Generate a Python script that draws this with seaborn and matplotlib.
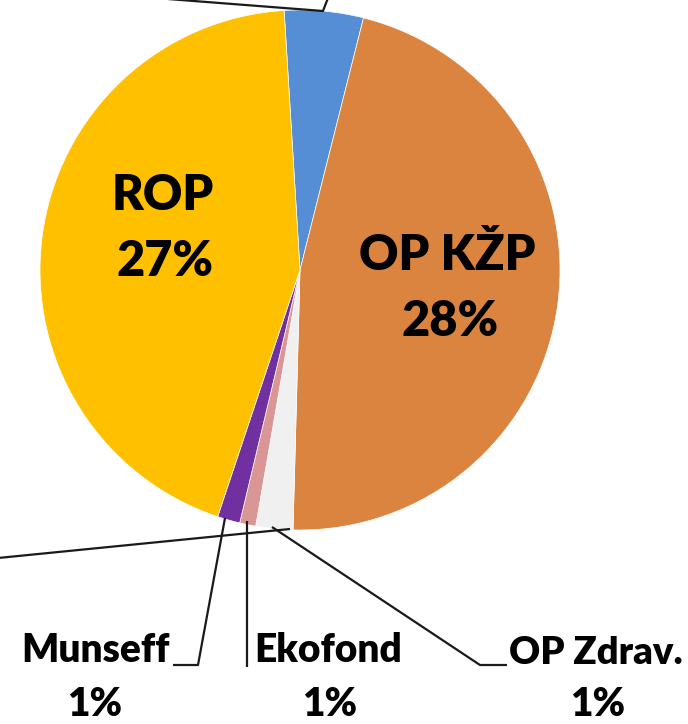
import matplotlib
matplotlib.use("Agg")
import matplotlib.pyplot as plt
import seaborn as sns

categories = ["Other", "OP KŽP", "OP Zdrav.", "Ekofond", "Munseff", "ROP"]
shares = [4.9, 46.5, 2.3, 1.0, 1.4, 43.9]
label_pct = ["", "28%", "1%", "1%", "1%", "27%"]
colors = ["#558ED5", "#DB843F", "#F0F0F0", "#D99694", "#7030A0", "#FFC000"]

sns.set_theme(style="white")
plt.rcParams["font.family"] = ["Lato", "DejaVu Sans"]

W, H = 688, 724
fig = plt.figure(figsize=(W / 100, H / 100), dpi=100)
ax = fig.add_axes([0, 0, 1, 1])


def P(x, y):
    return x, H - y


cx, cy = P(300, 270)
ax.pie(shares, colors=colors, startangle=93.5, counterclock=False,
       center=(cx, cy), radius=260,
       wedgeprops=dict(edgecolor="white", linewidth=0.5))
ax.set_xlim(0, W)
ax.set_ylim(0, H)
ax.set_aspect("equal")
ax.axis("off")

lc = "#1a1a1a"
lw = 1.6


def line(pts):
    xs = [P(*p)[0] for p in pts]
    ys = [P(*p)[1] for p in pts]
    ax.plot(xs, ys, color=lc, lw=lw, solid_capstyle="butt", clip_on=False)


# leader lines
line([(155, -2), (323, 11), (328, -2)])
line([(-2, 558), (290, 529)])
line([(272, 527), (480, 665), (507, 665)])
line([(225, 518), (198, 665), (173, 665)])
line([(247, 521), (247, 667)])

big = dict(fontsize=35, fontweight="heavy", color="black", ha="center", va="center")
ax.text(*P(163, 195), categories[5], **big)
ax.text(*P(165, 262), label_pct[5], **big)
ax.text(*P(447, 256), categories[1], **big)
ax.text(*P(450, 322), label_pct[1], **big)

small = dict(fontsize=28, fontweight="heavy", color="black", ha="center", va="center")
ax.text(*P(95, 651), categories[4], **small)
ax.text(*P(95, 704), label_pct[4], **small)
ax.text(*P(328, 651), categories[3], **small)
ax.text(*P(330, 704), label_pct[3], **small)
ax.text(*P(596, 653), categories[2], fontsize=27.5, fontweight="heavy",
        color="black", ha="center", va="center")
ax.text(*P(598, 705), label_pct[2], **small)

fig.savefig("out.png", dpi=100)
